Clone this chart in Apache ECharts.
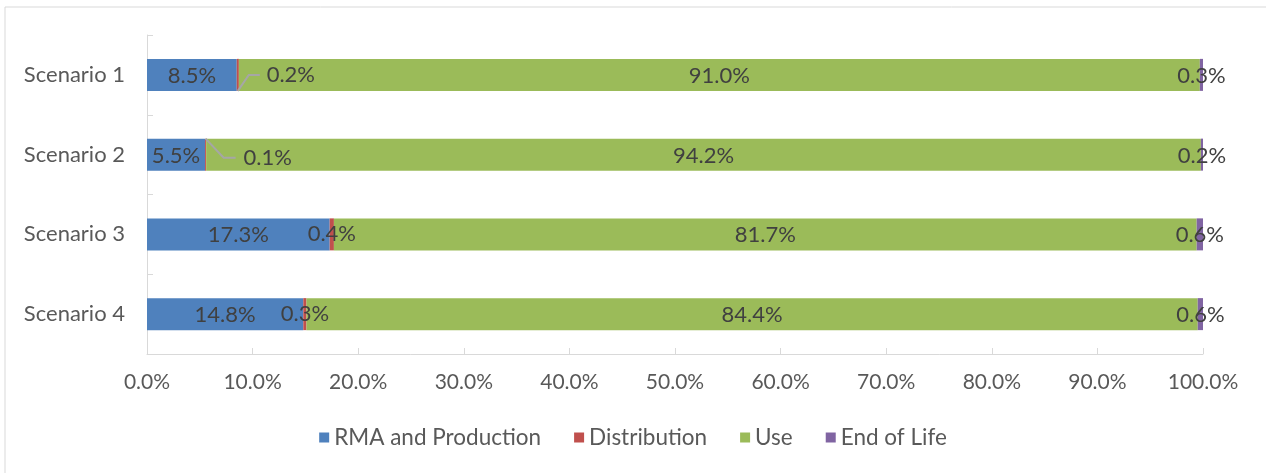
<!DOCTYPE html>
<html>
<head>
<meta charset="utf-8">
<script src="https://cdn.jsdelivr.net/npm/echarts@6/dist/echarts.min.js"></script>
<style>
html,body{margin:0;padding:0;background:#fff;}
#c{width:1266px;height:473px;}
</style>
</head>
<body>
<div id="c"></div>
<script>
const categories = ['Scenario 1', 'Scenario 2', 'Scenario 3', 'Scenario 4'];
const seriesNames = ['RMA and Production', 'Distribution', 'Use', 'End of Life'];
const rmaProduction = [8.5, 5.5, 17.3, 14.8];
const distribution = [0.2, 0.1, 0.4, 0.3];
const use = [91.0, 94.2, 81.7, 84.4];
const endOfLife = [0.3, 0.2, 0.6, 0.6];
const xTicks = [0, 10, 20, 30, 40, 50, 60, 70, 80, 90, 100];
const colors = ['#4F81BD', '#C0504D', '#9BBB59', '#8064A2'];

const FONT = 'Lato';
const chart = echarts.init(document.getElementById('c'));

const labelBase = {
  show: true,
  position: 'inside',
  offset: [0, 1],
  color: '#404040',
  fontFamily: FONT,
  fontSize: 22,
  formatter: p => p.value.toFixed(1) + '%'
};

function mk(name, data, color, extra) {
  return Object.assign({
    name: name,
    type: 'bar',
    stack: 'total',
    barWidth: 32,
    data: data,
    itemStyle: { color: color },
    label: Object.assign({}, labelBase),
    emphasis: { disabled: true },
    animation: false
  }, extra || {});
}

// Excel-style moved labels with leader lines (style/offsets, not data)
const distLabelShift = [[53, 0], [62, 3], null, null];
const leaderShape = [
  [[0, 16], [11, 0], [22, 0]],
  [[0, -16], [18, 3], [30, 3]],
  null, null
];

const option = {
  animation: false,
  graphic: [{
    type: 'rect',
    shape: { x: 5, y: 7, width: 1400, height: 600 },
    style: { fill: 'none', stroke: '#d9d9d9', lineWidth: 1 },
    silent: true,
    z: -10
  }],
  grid: { left: 147, right: 63, top: 35, bottom: 119, containLabel: false },
  legend: {
    bottom: 19,
    left: 'center',
    itemWidth: 10,
    itemHeight: 10,
    itemGap: 33,
    icon: 'rect',
    textStyle: { color: '#595959', fontFamily: FONT, fontSize: 22.5 },
    data: seriesNames
  },
  xAxis: {
    type: 'value',
    min: xTicks[0],
    max: xTicks[xTicks.length - 1],
    interval: 10,
    axisLine: { show: true, lineStyle: { color: '#d9d9d9', width: 1 } },
    axisTick: { show: true, inside: true, length: 6, lineStyle: { color: '#d9d9d9' } },
    splitLine: { show: false },
    axisLabel: {
      color: '#595959', fontFamily: FONT, fontSize: 21, margin: 18,
      formatter: v => v.toFixed(1) + '%'
    }
  },
  yAxis: {
    type: 'category',
    inverse: true,
    data: categories,
    axisLine: { show: true, lineStyle: { color: '#d9d9d9', width: 1 } },
    axisTick: { show: true, inside: true, length: 6, lineStyle: { color: '#d9d9d9' } },
    axisLabel: { color: '#595959', fontFamily: FONT, fontSize: 22, margin: 22 }
  },
  series: [
    mk(seriesNames[0], rmaProduction, colors[0]),
    mk(seriesNames[1], distribution, colors[1], {
      labelLayout: function (p) {
        const o = distLabelShift[p.dataIndex];
        return o ? { dx: o[0], dy: o[1] } : {};
      }
    }),
    mk(seriesNames[2], use, colors[2]),
    mk(seriesNames[3], endOfLife, colors[3]),
    {
      type: 'custom',
      name: 'leader',
      silent: true,
      z: 5,
      data: categories.map((c, i) => [rmaProduction[i] + distribution[i] / 2, i]),
      renderItem: function (params, api) {
        const shape = leaderShape[params.dataIndex];
        if (!shape) return null;
        const p = api.coord([api.value(0), api.value(1)]);
        return {
          type: 'polyline',
          shape: { points: shape.map(d => [p[0] + d[0], p[1] + d[1]]) },
          style: { stroke: '#a6a6a6', lineWidth: 2, fill: 'none' }
        };
      }
    }
  ]
};
chart.setOption(option);
</script>
</body>
</html>
